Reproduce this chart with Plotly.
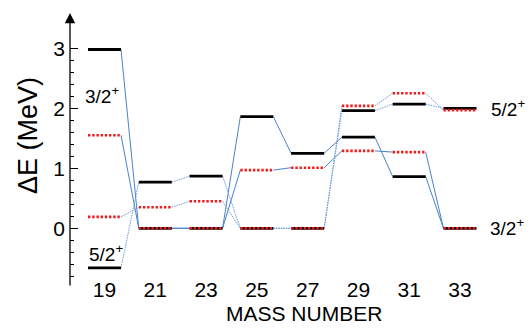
import plotly.graph_objects as go

# ---- data ----
mass = [19, 21, 23, 25, 27, 29, 31, 33]
black_32 = [2.98, 0.0, 0.0, 1.86, 1.25, 1.52, 0.86, 0.0]   # 3/2+ (black)
red_32 = [1.55, 0.0, 0.0, 0.97, 1.01, 1.29, 1.27, 0.0]     # 3/2+ (red)
black_52 = [-0.66, 0.77, 0.87, 0.0, 0.0, 1.96, 2.07, 2.0]  # 5/2+ (black)
red_52 = [0.19, 0.35, 0.45, 0.0, 0.0, 2.04, 2.25, 1.97]    # 5/2+ (red)
x_ticks = [19, 21, 23, 25, 27, 29, 31, 33]
y_ticks = [0, 1, 2, 3]
y_minor = [-0.8, -0.6, -0.4, -0.2, 0.2, 0.4, 0.6, 0.8, 1.2, 1.4, 1.6, 1.8,
           2.2, 2.4, 2.6, 2.8]

HALF = 0.65
FONT = "Liberation Sans, Arial, Helvetica, sans-serif"


def level_xy(vals):
    xs, ys = [], []
    for m, v in zip(mass, vals):
        xs += [m - HALF, m + HALF, None]
        ys += [v, v, None]
    return xs, ys


def link_xy(vals):
    xs, ys = [], []
    for i in range(len(mass) - 1):
        xs += [mass[i] + HALF, mass[i + 1] - HALF, None]
        ys += [vals[i], vals[i + 1], None]
    return xs, ys


fig = go.Figure()

# connectors
for vals in (black_32, red_32):
    x, y = link_xy(vals)
    fig.add_trace(go.Scatter(x=x, y=y, mode="lines",
                             line=dict(color="#4a82cc", width=1),
                             hoverinfo="skip", cliponaxis=False))
for vals in (black_52, red_52):
    x, y = link_xy(vals)
    fig.add_trace(go.Scatter(x=x, y=y, mode="lines",
                             line=dict(color="#6d9ad8", width=1, dash="1.5px,1px"),
                             hoverinfo="skip", cliponaxis=False))
# black levels
for vals in (black_32, black_52):
    x, y = level_xy(vals)
    fig.add_trace(go.Scatter(x=x, y=y, mode="lines",
                             line=dict(color="black", width=2.8),
                             hoverinfo="skip", cliponaxis=False))
# red dotted levels
for vals in (red_32, red_52):
    x, y = level_xy(vals)
    fig.add_trace(go.Scatter(x=x, y=y, mode="lines",
                             line=dict(color="#ee1c1c", width=2.6, dash="2.4px,1.8px"),
                             hoverinfo="skip", cliponaxis=False))

X0 = 17.641
fig.update_layout(
    width=530, height=328,
    margin=dict(l=0, r=0, t=0, b=0),
    paper_bgcolor="white", plot_bgcolor="white",
    showlegend=False,
    font=dict(family=FONT, color="black"),
    xaxis=dict(domain=[70 / 530, 1], range=[X0, 35.758],
               tickmode="array", tickvals=x_ticks,
               ticktext=[str(v) for v in x_ticks],
               showgrid=False, zeroline=False, showline=False, ticks="",
               anchor="free", position=(328 - 275) / 328,
               tickfont=dict(size=21, family=FONT)),
    yaxis=dict(domain=[0, 1], range=[-1.662, 3.805],
               tickmode="array", tickvals=y_ticks,
               ticktext=[str(v) for v in y_ticks],
               showgrid=False, zeroline=False, showline=False,
               ticks="inside", ticklen=8, tickwidth=1.3, tickcolor="black",
               ticklabelstandoff=4,
               minor=dict(tickvals=y_minor, ticks="inside", ticklen=4,
                          tickwidth=1, tickcolor="black", showgrid=False),
               tickfont=dict(size=21, family=FONT)),
)

# y axis line with arrow
fig.add_annotation(x=X0, y=3.59, ax=X0, ay=-0.98, xref="x", yref="y",
                   axref="x", ayref="y", text="", showarrow=True,
                   arrowhead=2, arrowsize=1.6, arrowwidth=1.3,
                   arrowcolor="black", standoff=0, startstandoff=0)

# axis titles
fig.add_annotation(text="ΔE (MeV)", xref="paper", yref="paper",
                   x=28 / 530, y=1 - 136 / 328, textangle=-90,
                   showarrow=False, font=dict(size=27, family=FONT),
                   xanchor="center", yanchor="middle")
fig.add_annotation(text="MASS NUMBER", xref="paper", yref="paper",
                   x=304 / 530, y=1 - 313 / 328, showarrow=False,
                   font=dict(size=21, family=FONT),
                   xanchor="center", yanchor="middle")

# spin labels
lab = dict(showarrow=False, font=dict(size=19, family=FONT), yanchor="middle")
fig.add_annotation(text="3/2<sup>+</sup>", x=18.9, y=2.22, xanchor="center", **lab)
fig.add_annotation(text="5/2<sup>+</sup>", x=19.05, y=-0.41, xanchor="center", **lab)
fig.add_annotation(text="5/2<sup>+</sup>", x=34.15, y=2.0, xanchor="left", **lab)
fig.add_annotation(text="3/2<sup>+</sup>", x=34.1, y=0.02, xanchor="left", **lab)

fig.write_html("out.html")
